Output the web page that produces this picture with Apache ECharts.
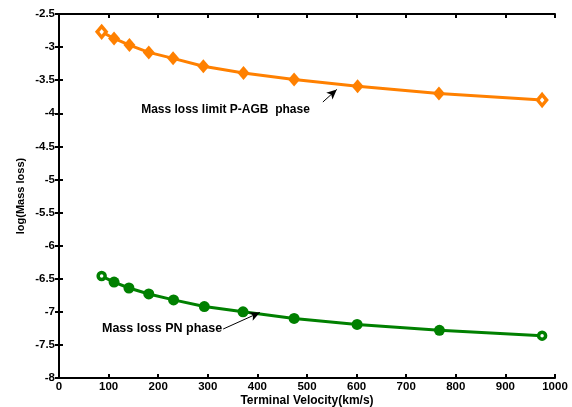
<!DOCTYPE html>
<html><head><meta charset="utf-8">
<script src="https://cdn.jsdelivr.net/npm/echarts@6/dist/echarts.min.js"></script>
<style>html,body{margin:0;padding:0;background:#fff}#c{width:572px;height:407px}</style>
</head><body><div id="c"></div>
<script>
const agbX = [86, 111, 142, 181, 230, 291, 372, 474, 602, 766, 974];
const agbY = [-2.77, -2.87, -2.97, -3.08, -3.17, -3.29, -3.39, -3.49, -3.59, -3.70, -3.80];
const pnX = [86, 111, 141, 181, 231, 293, 371, 474, 601, 767, 974];
const pnY = [-6.46, -6.55, -6.64, -6.73, -6.82, -6.92, -7.00, -7.10, -7.19, -7.28, -7.36];
const xLabel = 'Terminal Velocity(km/s)';
const yLabel = 'log(Mass loss)';
const agbNote = 'Mass loss limit P-AGB  phase';
const pnNote = 'Mass loss PN phase';
const agbArrow = [[532, -3.83], [560, -3.64]];
const pnArrow = [[331, -7.26], [405, -7.01]];
const agbNotePos = [532, -3.94];
const pnNotePos = [331, -7.26];

const font = 'Liberation Sans, Arial, sans-serif';
function pts(xs, ys, color, endSize) {
  return xs.map((x, i) => {
    const d = {value: [x, ys[i]]};
    if (i === 0 || i === xs.length - 1) {
      d.symbolSize = endSize;
      d.itemStyle = {color: '#fff', borderColor: color, borderWidth: 3.5};
    }
    return d;
  });
}
const chart = echarts.init(document.getElementById('c'));
const axisCommon = {
  axisLine: {show: true, lineStyle: {color: '#000', width: 2}},
  axisTick: {show: true, inside: true, length: 4, lineStyle: {color: '#000', width: 2}},
  splitLine: {show: false}
};
const lblStyle = {fontFamily: font, fontWeight: 'bold', fontSize: 11.5, color: '#000'};
chart.setOption({
  animation: false,
  grid: {left: 59, right: 17, top: 14, bottom: 29, containLabel: false, outerBoundsMode: 'none'},
  xAxis: [
    Object.assign({type: 'value', min: 0, max: 1000, interval: 100, position: 'bottom',
      name: xLabel, nameLocation: 'middle', nameGap: 17, nameMoveOverlap: false,
      nameTextStyle: {fontFamily: font, fontWeight: 'bold', fontSize: 12, color: '#000'},
      axisLabel: Object.assign({margin: 3, formatter: v => String(v)}, lblStyle)}, axisCommon),
    Object.assign({type: 'value', min: 0, max: 1000, interval: 100, position: 'top',
      axisLabel: {show: false}}, axisCommon)
  ],
  yAxis: [
    Object.assign({type: 'value', min: -8, max: -2.5, interval: 0.5, position: 'left',
      name: yLabel, nameLocation: 'middle', nameGap: 33, nameRotate: 90, nameMoveOverlap: false,
      nameTextStyle: {fontFamily: font, fontWeight: 'bold', fontSize: 11, color: '#000'},
      axisLabel: Object.assign({margin: 4, formatter: v => String(v)}, lblStyle)}, axisCommon),
    Object.assign({type: 'value', min: -8, max: -2.5, interval: 0.5, position: 'right',
      axisLabel: {show: false}}, axisCommon)
  ],
  series: [
    {type: 'line', data: pts(agbX, agbY, '#ff8000', [9, 11]), symbol: 'diamond', symbolSize: [12, 14],
      itemStyle: {color: '#ff8000'}, lineStyle: {color: '#ff8000', width: 3},
      markLine: {silent: true, symbol: ['none', 'arrow'], symbolSize: [7, 10],
        lineStyle: {color: '#000', width: 1, type: 'solid'}, label: {show: false},
        data: [[{coord: agbArrow[0]}, {coord: agbArrow[1]}]]}},
    {type: 'line', data: pts(pnX, pnY, '#008000', 7), symbol: 'circle', symbolSize: 11,
      itemStyle: {color: '#008000'}, lineStyle: {color: '#008000', width: 3},
      markLine: {silent: true, symbol: ['none', 'arrow'], symbolSize: [7, 10],
        lineStyle: {color: '#000', width: 1, type: 'solid'}, label: {show: false},
        data: [[{coord: pnArrow[0]}, {coord: pnArrow[1]}]]}}
  ]
});
const p1 = chart.convertToPixel({gridIndex: 0}, agbNotePos);
const p2 = chart.convertToPixel({gridIndex: 0}, pnNotePos);
chart.setOption({graphic: [
  {type: 'text', x: p1[0] - 13, y: p1[1], style: {text: agbNote, font: 'bold 12px ' + font, fill: '#000', align: 'right', verticalAlign: 'middle'}},
  {type: 'text', x: p2[0] - 1, y: p2[1], style: {text: pnNote, font: 'bold 12.5px ' + font, fill: '#000', align: 'right', verticalAlign: 'middle'}}
]});
</script></body></html>
